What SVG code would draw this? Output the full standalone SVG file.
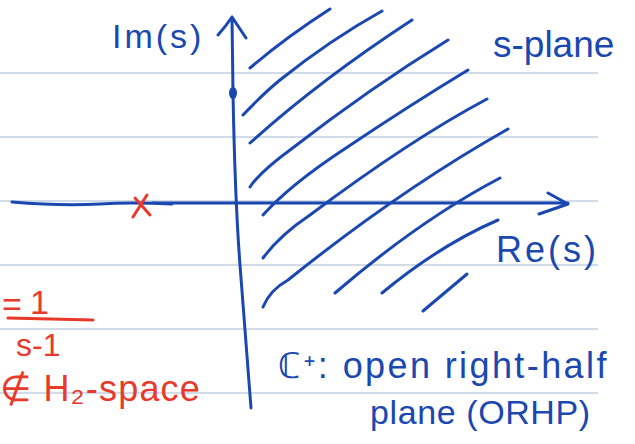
<svg xmlns="http://www.w3.org/2000/svg" width="635" height="444" viewBox="0 0 635 444">
<style>
.rule{stroke:#c3cfe0;stroke-width:1.5;fill:none}
.ink{stroke:#1a48b0;stroke-width:3;fill:none;stroke-linecap:round;stroke-linejoin:round}
.red{stroke:#e8392a;stroke-width:3;fill:none;stroke-linecap:round}
.bt{fill:#1a48b0;font-family:"Liberation Sans","Open Sans",sans-serif}
.rt{fill:#e8392a;font-family:"Liberation Sans","Open Sans",sans-serif}
</style>
<rect width="635" height="444" fill="#ffffff"/>
<g id="rules">
<line class="rule" x1="0" y1="73" x2="598" y2="73"/>
<line class="rule" x1="0" y1="137" x2="598" y2="137"/>
<line class="rule" x1="0" y1="201" x2="598" y2="201"/>
<line class="rule" x1="0" y1="265" x2="598" y2="265"/>
<line class="rule" x1="0" y1="329" x2="598" y2="329"/>
<line class="rule" x1="0" y1="393" x2="598" y2="393"/>
</g>
<g id="hatching">
<path class="ink" d="M250,68 Q285,38 330,9"/>
<path class="ink" d="M243,115 Q265,92 280,80 Q330,40 382,11"/>
<path class="ink" d="M250,143 Q320,80 412,20"/>
<path class="ink" d="M250,187 Q260,172 290,150 Q370,88 448,40"/>
<path class="ink" d="M263,215 Q290,185 343,150 Q410,105 468,70"/>
<path class="ink" d="M263,258 Q280,235 310,215 Q410,140 487,99"/>
<path class="ink" d="M263,307 Q270,290 288,280 Q400,190 508,129"/>
<path class="ink" d="M335,293 Q420,220 500,178"/>
<path class="ink" d="M382,293 Q440,245 498,220"/>
<path class="ink" d="M423,311 L467,274"/>
</g>
<g id="connectors">
<path id="re-axis" class="ink" d="M12,202 Q60,206 100,204 Q130,202 172,204 M153,203 L568,203 M548,193 L568,204 L539,214"/>
<path id="im-axis" class="ink" d="M232,17 L233,93 Q235,200 240,265 L251,408 M218,35 Q226,26 232,17 L246,38"/>
<ellipse cx="233" cy="93" rx="4" ry="6" fill="#1a48b0"/>
</g>
<g id="pole">
<path class="red" d="M135,198 L150,215 M147,195 L133,217"/>
</g>
<g id="labels">
<text class="bt" x="112" y="48" font-size="34" letter-spacing="3">Im(s)</text>
<text class="bt" x="493" y="57" font-size="37">s-plane</text>
<text class="bt" x="496" y="262" font-size="36" letter-spacing="3">Re(s)</text>
<text class="bt" x="278" y="378" font-size="36" letter-spacing="2.4">ℂ⁺: open right-half</text>
<text class="bt" x="370" y="424" font-size="34" letter-spacing="0.6">plane (ORHP)</text>
</g>
<g id="transfer">
<text class="rt" x="2" y="316" font-size="34">=</text>
<text class="rt" x="30" y="314" font-size="34">1</text>
<line class="red" x1="8" y1="318" x2="93" y2="320"/>
<text class="rt" x="16" y="356" font-size="32">s-1</text>
<text class="rt" x="0" y="401" font-size="36" letter-spacing="1.2">∉ H₂-space</text>
</g>
</svg>
